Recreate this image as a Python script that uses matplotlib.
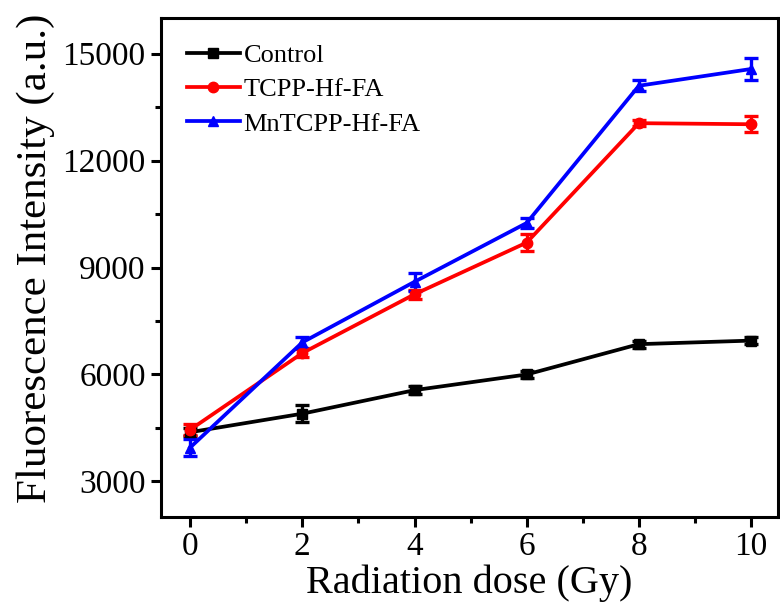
import matplotlib.pyplot as plt
from matplotlib.ticker import MultipleLocator

plt.rcParams["font.family"] = ["Liberation Serif", "DejaVu Serif"]
plt.rcParams["mathtext.fontset"] = "stix"

dose = [0, 2, 4, 6, 8, 10]

control = [4380, 4900, 5560, 6000, 6850, 6950]
control_err = [120, 230, 120, 100, 100, 100]

tcpp = [4450, 6600, 8250, 9700, 13050, 13020]
tcpp_err = [150, 120, 120, 230, 80, 220]

mntcpp = [3950, 6900, 8600, 10250, 14100, 14570]
mntcpp_err = [230, 150, 250, 150, 150, 320]

series = [
    ("Control", control, control_err, "black", "s"),
    ("TCPP-Hf-FA", tcpp, tcpp_err, "#ff0000", "o"),
    ("MnTCPP-Hf-FA", mntcpp, mntcpp_err, "#0000ff", "^"),
]

fig = plt.figure(figsize=(7.8, 6.09), dpi=100)
ax = fig.add_axes([0.2064, 0.151, 0.791, 0.8194])

for label, values, err, color, marker in series:
    ax.errorbar(
        dose, values, yerr=err, color=color, marker=marker, markersize=7.5,
        linewidth=2.7, elinewidth=2.4, capsize=5, capthick=2.4, label=label,
    )

ax.set_xlim(-0.52, 10.48)
ax.set_ylim(2000, 16000)
ax.xaxis.set_major_locator(MultipleLocator(2))
ax.xaxis.set_minor_locator(MultipleLocator(1))
ax.yaxis.set_major_locator(MultipleLocator(3000))
ax.yaxis.set_minor_locator(MultipleLocator(1500))
ax.set_yticks([3000, 6000, 9000, 12000, 15000])

for spine in ax.spines.values():
    spine.set_linewidth(2.2)

ax.tick_params(which="both", direction="out", width=2.2, labelsize=24,
               top=False, right=False)
ax.tick_params(which="major", length=7)
ax.tick_params(which="minor", length=4)
ax.tick_params(axis="y", pad=4)

ax.set_xlabel("Radiation dose (Gy)", fontsize=29, labelpad=2)
ax.set_ylabel("Fluorescence Intensity (a.u.)", fontsize=31)
ax.yaxis.set_label_coords(-0.172, 0.518)

handles, labels = ax.get_legend_handles_labels()
handles = [h[0] for h in handles]
ax.legend(handles, labels, loc="upper left", frameon=False, fontsize=19,
          handlelength=2.0, handletextpad=0.15, labelspacing=0.4,
          borderaxespad=0.3, bbox_to_anchor=(0.012, 0.985))

fig.savefig("out.png", dpi=100)
